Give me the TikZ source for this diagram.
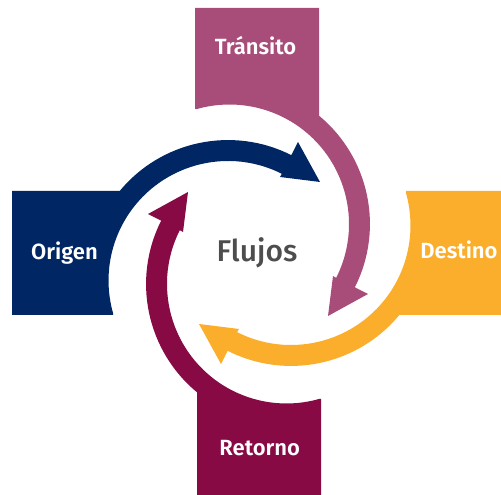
\documentclass[tikz,border=0pt]{standalone}
\usepackage{fontspec}
\setmainfont{Fira Sans}
\newfontfamily\boxfont{Fira Sans SemiBold}
\newfontfamily\flujosfont{Fira Sans Medium}
\usepackage{tikz}
\usetikzlibrary{positioning}
\definecolor{origenblue}{RGB}{0,38,99}
\definecolor{transitopink}{RGB}{168,77,121}
\definecolor{destinoorange}{RGB}{251,174,43}
\definecolor{retornored}{RGB}{136,10,69}
\definecolor{flujosgray}{RGB}{77,77,77}
\tikzset{
  boxlabel/.style={text=white, font=\boxfont\fontsize{22}{26}\selectfont, anchor=base, inner sep=0pt},
  centerlabel/.style={text=flujosgray, font=\flujosfont\fontsize{30}{36}\selectfont, anchor=base, inner sep=0pt},
}

\begin{document}
\begin{tikzpicture}[x=1pt, y=1pt]
  \useasboundingbox (0,0) rectangle (501,495);
  \clip (0,0) rectangle (501,495);

  % one box with its curved arrow, turned round the middle four times
  \foreach \ang/\col/\dx/\dy in {0/origenblue/0/0, -90/transitopink/0/0, 180/destinoorange/5/0, 90/retornored/2/-2} {
    \begin{scope}[shift={(257+\dx,242+\dy)}, rotate=\ang]
      \fill[\col] (-144,-62) -- (-245,-62) -- (-245,62) -- (-137.3,62)
        arc[start angle=140.4, end angle=63.2, radius=140.5]
        -- (41,111) -- (63,71) -- (23,76)
        -- ([shift={(-29,-27.5)}]63.2:119.5)
        arc[start angle=63.2, end angle=195.8, radius=119.5] -- cycle;
    \end{scope}
  }

  \node[boxlabel] (origen) at (64.5,235) {Origen};
  \node[boxlabel] (transito) at (255.5,440) {Tránsito};
  \node[boxlabel] (destino) at (459,236) {Destino};
  \node[boxlabel] (retorno) at (259.7,39) {Retorno};
  \node[centerlabel] (flujos) at (257,233) {Flujos};
\end{tikzpicture}
\end{document}
